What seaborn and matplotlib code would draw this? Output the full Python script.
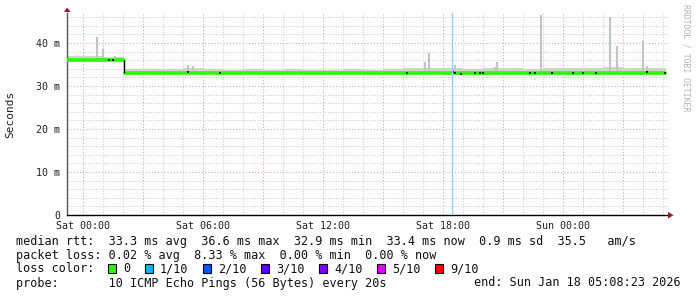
import matplotlib
matplotlib.use("Agg")
import matplotlib.pyplot as plt
import seaborn as sns
import pandas as pd
from matplotlib.patches import Rectangle, Polygon
from matplotlib.ticker import FixedLocator, MultipleLocator

# ---------------- data (hours relative to Sat 00:00, values in ms) ----------------
x_tick_hours = [0, 6, 12, 18, 24]
x_tick_labels = ["Sat 00:00", "Sat 06:00", "Sat 12:00", "Sat 18:00", "Sun 00:00"]
y_tick_values = [0, 10, 20, 30, 40]
y_tick_labels = ["0", "10 m", "20 m", "30 m", "40 m"]

median_hours_a = [-0.8, 0.5, 1.2, 2.05]
median_ms_a = [36.1, 36.1, 36.1, 36.1]
median_hours_b = [2.12, 6.0, 12.0, 18.0, 24.0, 29.1]
median_ms_b = [33.0, 33.0, 33.0, 33.0, 33.0, 33.0]

smoke_hours = [-0.8, 0, 1, 2.05, 3, 4, 5, 6, 7, 8, 9, 10, 11, 12, 13, 14, 15,
               16, 17, 18, 19, 20, 21, 22, 23, 24, 25, 26, 27, 28, 29.15]
smoke_top = [36.9, 37.0, 36.8, 33.9, 34.0, 33.9, 34.1, 34.0, 33.8, 33.9, 33.8,
             33.9, 33.8, 33.8, 33.9, 33.8, 34.0, 34.1, 34.2, 34.3, 34.0, 34.2,
             34.1, 34.0, 34.2, 34.3, 34.2, 34.4, 34.3, 34.2, 34.1]
smoke_low = [35.7, 35.7, 35.7, 32.6, 32.7, 32.6, 32.7, 32.7, 32.6, 32.7, 32.6,
             32.7, 32.6, 32.6, 32.7, 32.6, 32.7, 32.6, 32.7, 32.6, 32.6, 32.5,
             32.6, 32.5, 32.6, 32.6, 32.7, 32.6, 32.6, 32.6, 32.6]

spike_hours = [0.7, 1.0, 1.6, 5.25, 5.5, 17.1, 17.3, 18.6, 20.6, 20.7, 22.9,
               26.35, 26.7, 28.0, 28.2]
spike_top = [41.3, 38.6, 37.0, 34.9, 34.6, 35.6, 37.6, 34.9, 34.4, 35.6, 46.5,
             46.0, 39.3, 40.5, 34.7]
spike_base = [36.0, 36.0, 36.0, 33.0, 33.0, 33.0, 33.0, 33.0, 33.0, 33.0, 33.0,
              33.0, 33.0, 33.0, 33.0]

dark_hours = [1.3, 1.5, 5.25, 6.85, 16.2, 18.5, 18.6, 18.9, 19.6, 19.85, 20.0,
              22.35, 22.6, 23.45, 24.5, 25.0, 25.65, 28.2, 29.1]
dark_ms = [36.0, 36.1, 33.2, 33.1, 33.1, 33.3, 33.0, 32.9, 33.0, 33.1, 33.0,
           33.1, 33.0, 33.1, 33.0, 33.1, 33.0, 33.3, 33.1]

event_hours = [18.45]

loss_labels = ["0", "1/10", "2/10", "3/10", "4/10", "5/10", "9/10"]
loss_colors = ["#26ff00", "#00b8ff", "#0059ff", "#5e00ff", "#7e00ff", "#dd00ff", "#ff0000"]

legend_median = "median rtt:  33.3 ms avg  36.6 ms max  32.9 ms min  33.4 ms now  0.9 ms sd  35.5   am/s"
legend_loss = "packet loss: 0.02 % avg  8.33 % max  0.00 % min  0.00 % now"
legend_probe = "probe:       10 ICMP Echo Pings (56 Bytes) every 20s"
legend_end = "end: Sun Jan 18 05:08:23 2026"

# ---------------- figure ----------------
sns.set_style("white")
plt.rcParams["font.family"] = ["DejaVu Sans Mono", "DejaVu Sans"]

W, H = 697, 297
fig = plt.figure(figsize=(W / 100, H / 100), dpi=100)
fig.patch.set_facecolor("white")

def fx(px):
    return px / W

def fy(py):
    return (H - py) / H

ax = fig.add_axes([fx(67), fy(215), (668 - 67) / W, (215 - 13) / H])
ax.set_facecolor("white")
ax.set_xlim(-0.8, 29.25)
ax.set_ylim(0, 202 / 4.3)

# grid
ax.xaxis.set_major_locator(FixedLocator(x_tick_hours))
ax.xaxis.set_minor_locator(MultipleLocator(1))
ax.yaxis.set_major_locator(FixedLocator(y_tick_values))
ax.yaxis.set_minor_locator(MultipleLocator(2))
for h in range(0, 30):
    if h % 3 == 0:
        ax.axvline(h, color="#e4a4a4", lw=0.75, ls=(0, (1, 2)), zorder=0.6)
    else:
        ax.axvline(h, color="#cccccc", lw=0.75, ls=(0, (1, 1.5)), zorder=0.5)
for v in range(2, 47, 2):
    if v % 10 == 0:
        ax.axhline(v, color="#e4a4a4", lw=0.75, ls=(0, (1, 2)), zorder=0.6)
    else:
        ax.axhline(v, color="#cccccc", lw=0.75, ls=(0, (1, 1.5)), zorder=0.5)

# smoke
ax.fill_between(smoke_hours, smoke_low, smoke_top, step="post",
                color="#d2d2d2", lw=0, zorder=1)
ax.vlines(spike_hours, spike_base, spike_top, color="#c4c4c4", lw=1.5, zorder=1.2)

# median line
df_a = pd.DataFrame({"hour": median_hours_a, "ms": median_ms_a})
df_b = pd.DataFrame({"hour": median_hours_b, "ms": median_ms_b})
sns.lineplot(data=df_a, x="hour", y="ms", ax=ax, color=loss_colors[0], lw=2.6,
             drawstyle="steps-post", zorder=3)
sns.lineplot(data=df_b, x="hour", y="ms", ax=ax, color=loss_colors[0], lw=2.6,
             drawstyle="steps-post", zorder=3)
ax.vlines([median_hours_a[-1]], median_ms_b[0], median_ms_a[-1], color="black",
          lw=1.0, zorder=3.5)

df_dark = pd.DataFrame({"hour": dark_hours, "ms": dark_ms})
sns.scatterplot(data=df_dark, x="hour", y="ms", ax=ax, color="#222222", marker="s",
                s=2.5, linewidth=0, zorder=4)

for e in event_hours:
    ax.axvline(e, color="#88d4ff", lw=1.0, zorder=5)

# axes styling
for side in ["top", "right"]:
    ax.spines[side].set_visible(False)
ax.spines["left"].set_color("#555555")
ax.spines["left"].set_linewidth(1.0)
ax.spines["bottom"].set_color("black")
ax.spines["bottom"].set_linewidth(1.0)
ax.set_xlabel("")
ax.set_ylabel("")
ax.set_xticks(x_tick_hours)
ax.set_xticklabels(x_tick_labels)
ax.set_yticks(y_tick_values)
ax.set_yticklabels(y_tick_labels)
ax.tick_params(axis="both", which="both", length=0)
ax.tick_params(axis="x", pad=4, labelsize=7.2, colors="#222222")
ax.tick_params(axis="y", pad=5, labelsize=7.2, colors="#222222")

# arrows
fig.patches.append(Polygon([[fx(64), fy(12)], [fx(70.5), fy(12)], [fx(67.2), fy(7.5)]],
                           closed=True, transform=fig.transFigure,
                           fc="#8b1a1a", ec="none", figure=fig))
fig.patches.append(Polygon([[fx(668), fy(212)], [fx(668), fy(218.5)], [fx(673.5), fy(215.2)]],
                           closed=True, transform=fig.transFigure,
                           fc="#8b1a1a", ec="none", figure=fig))

# side texts
fig.text(fx(10), fy(114), "Seconds", rotation=90, ha="center", va="center",
         fontsize=8, color="#222222")
fig.text(fx(686), fy(4), "RRDTOOL / TOBI OETIKER", rotation=270, ha="center",
         va="top", fontsize=5.9, color="#b4b4b4")

# legend rows
lfs = 8.5
fig.text(fx(16), fy(241), legend_median, ha="left", va="center", fontsize=lfs, color="#111111")
fig.text(fx(16), fy(255), legend_loss, ha="left", va="center", fontsize=lfs, color="#111111")
fig.text(fx(16), fy(268.5), "loss color:", ha="left", va="center", fontsize=lfs, color="#111111")
box_x = [108, 145, 203, 261, 319, 377, 435]
for bx, lab, col in zip(box_x, loss_labels, loss_colors):
    fig.patches.append(Rectangle((fx(bx), fy(273)), 8 / W, 9 / H,
                                 transform=fig.transFigure, fc=col, ec="black",
                                 lw=0.8, figure=fig))
    fig.text(fx(bx + 15), fy(268.5), lab, ha="left", va="center", fontsize=lfs, color="#111111")
fig.text(fx(16), fy(283), legend_probe, ha="left", va="center", fontsize=lfs, color="#111111")
fig.text(fx(681), fy(283), legend_end, ha="right", va="center", fontsize=lfs, color="#111111")

fig.savefig("out.png", dpi=100, facecolor="white")
